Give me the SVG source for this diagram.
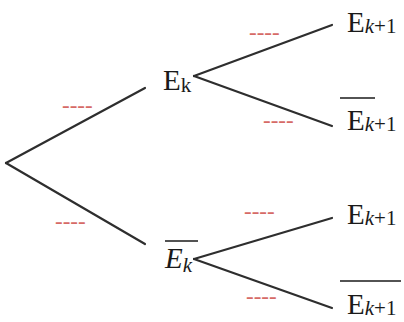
<svg xmlns="http://www.w3.org/2000/svg" width="404" height="322" viewBox="0 0 404 322">
<style>
.lbl{font-family:"Liberation Serif","Times New Roman",serif;font-size:29px;fill:#1a1a1a}
.sub{font-size:21px}
.it{font-style:italic}
.bar{stroke:#1a1a1a;stroke-width:1.5}
.edge{stroke:#2e2e2e;stroke-width:2.2;fill:none;stroke-linecap:round}
.prob{font-family:"Liberation Serif","Times New Roman",serif;font-size:23px;fill:#d66a66}
</style>
<rect width="404" height="322" fill="#fff"/>
<g id="connectors">
<line class="edge" x1="6" y1="163" x2="145" y2="88"/>
<line class="edge" x1="6" y1="163" x2="145" y2="244"/>
<line class="edge" x1="194" y1="76" x2="332" y2="25"/>
<line class="edge" x1="194" y1="76" x2="332" y2="126"/>
<line class="edge" x1="194" y1="259" x2="332" y2="218"/>
<line class="edge" x1="194" y1="259" x2="332" y2="308"/>
</g>
<g id="probabilities">
<text class="prob" x="62" y="113">----</text>
<text class="prob" x="55" y="229">----</text>
<text class="prob" x="249" y="40">----</text>
<text class="prob" x="263" y="128">----</text>
<text class="prob" x="244" y="219">----</text>
<text class="prob" x="246" y="304">----</text>
</g>
<g id="node-Ek">
<text class="lbl" x="163" y="90">E<tspan class="sub" dy="2">k</tspan></text>
</g>
<g id="node-notEk">
<line class="bar" x1="165" y1="241" x2="198" y2="241"/>
<text class="lbl it" x="165" y="268">E<tspan class="sub" dy="4">k</tspan></text>
</g>
<g id="node-Ek1-top">
<text class="lbl" x="347" y="32">E<tspan class="sub" dy="1"><tspan class="it">k</tspan>+1</tspan></text>
</g>
<g id="node-notEk1-top">
<line class="bar" x1="340" y1="98" x2="375" y2="98"/>
<text class="lbl" x="347" y="130">E<tspan class="sub" dy="1"><tspan class="it">k</tspan>+1</tspan></text>
</g>
<g id="node-Ek1-bottom">
<text class="lbl" x="347" y="224">E<tspan class="sub" dy="1"><tspan class="it">k</tspan>+1</tspan></text>
</g>
<g id="node-notEk1-bottom">
<line class="bar" x1="340" y1="281" x2="401" y2="281"/>
<text class="lbl" x="347" y="314">E<tspan class="sub" dy="1"><tspan class="it">k</tspan>+1</tspan></text>
</g>
</svg>
